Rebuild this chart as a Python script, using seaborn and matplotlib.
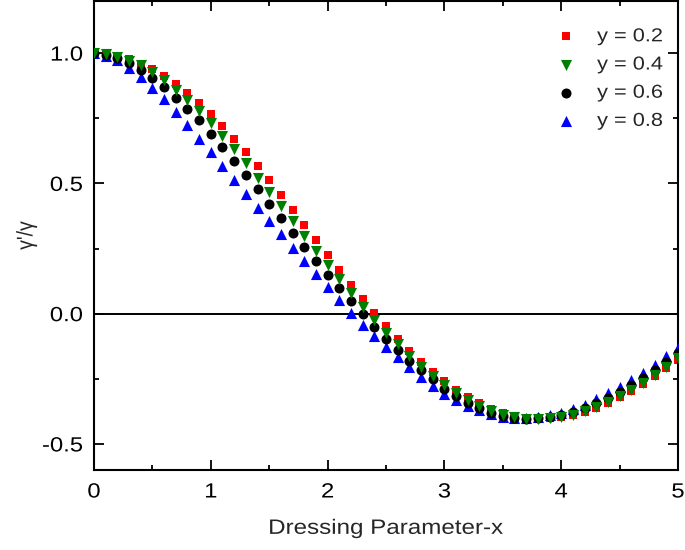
import matplotlib
matplotlib.use("Agg")
import matplotlib.pyplot as plt
import pandas as pd
import seaborn as sns
from matplotlib.path import Path
from matplotlib.patheffects import AbstractPathEffect
from matplotlib.ticker import MultipleLocator
from matplotlib.transforms import Affine2D

# Dressing parameter values (sampled every 0.1)
dressing_x = [0.0, 0.1, 0.2, 0.3, 0.4, 0.5, 0.6, 0.7, 0.8, 0.9,
              1.0, 1.1, 1.2, 1.3, 1.4, 1.5, 1.6, 1.7, 1.8, 1.9,
              2.0, 2.1, 2.2, 2.3, 2.4, 2.5, 2.6, 2.7, 2.8, 2.9,
              3.0, 3.1, 3.2, 3.3, 3.4, 3.5, 3.6, 3.7, 3.8, 3.9,
              4.0, 4.1, 4.2, 4.3, 4.4, 4.5, 4.6, 4.7, 4.8, 4.9, 5.0]

ratio_y02 = [1.000, 0.998, 0.990, 0.978, 0.960, 0.938, 0.912, 0.881, 0.846, 0.808,
             0.765, 0.720, 0.671, 0.620, 0.567, 0.512, 0.455, 0.398, 0.340, 0.282,
             0.224, 0.167, 0.110, 0.056, 0.003, -0.048, -0.097, -0.142, -0.185, -0.224,
             -0.260, -0.292, -0.320, -0.344, -0.364, -0.380, -0.392, -0.399, -0.403, -0.402,
             -0.397, -0.389, -0.377, -0.361, -0.342, -0.321, -0.296, -0.269, -0.240, -0.210, -0.178]

ratio_y04 = [1.000, 0.995, 0.986, 0.970, 0.954, 0.928, 0.896, 0.860, 0.819, 0.777,
             0.733, 0.682, 0.631, 0.578, 0.522, 0.467, 0.413, 0.355, 0.297, 0.242,
             0.188, 0.132, 0.078, 0.027, -0.025, -0.074, -0.118, -0.163, -0.204, -0.241,
             -0.275, -0.305, -0.332, -0.355, -0.373, -0.387, -0.397, -0.403, -0.405, -0.401,
             -0.396, -0.389, -0.374, -0.358, -0.338, -0.317, -0.293, -0.266, -0.236, -0.204, -0.169]

ratio_y06 = [1.000, 0.994, 0.980, 0.962, 0.937, 0.906, 0.870, 0.829, 0.787, 0.742,
             0.691, 0.640, 0.586, 0.531, 0.477, 0.422, 0.368, 0.310, 0.255, 0.201,
             0.149, 0.097, 0.047, 0.000, -0.050, -0.098, -0.140, -0.180, -0.218, -0.252,
             -0.288, -0.317, -0.342, -0.363, -0.380, -0.392, -0.400, -0.403, -0.402, -0.397,
             -0.389, -0.378, -0.362, -0.344, -0.323, -0.300, -0.274, -0.246, -0.216, -0.184, -0.151]

ratio_y08 = [1.000, 0.990, 0.973, 0.941, 0.909, 0.867, 0.822, 0.774, 0.723, 0.672,
             0.619, 0.565, 0.512, 0.458, 0.406, 0.355, 0.304, 0.253, 0.201, 0.153,
             0.101, 0.052, 0.002, -0.042, -0.085, -0.127, -0.167, -0.206, -0.242, -0.276,
             -0.307, -0.331, -0.353, -0.371, -0.385, -0.395, -0.399, -0.400, -0.397, -0.390,
             -0.381, -0.367, -0.350, -0.329, -0.306, -0.282, -0.255, -0.226, -0.196, -0.164, -0.133]

series_labels = ["y = 0.2", "y = 0.4", "y = 0.6", "y = 0.8"]
series_values = [ratio_y02, ratio_y04, ratio_y06, ratio_y08]

x_ticks = [0, 1, 2, 3, 4, 5]
y_ticks = [-0.5, 0.0, 0.5, 1.0]
y_tick_labels = ["-0.5", "0.0", "0.5", "1.0"]

df = pd.concat(
    [pd.DataFrame({"x": dressing_x, "ratio": vals, "series": lab})
     for lab, vals in zip(series_labels, series_values)],
    ignore_index=True,
)


class Stretch(AbstractPathEffect):
    """Draw text glyphs widened along the baseline (or heightened)."""

    def __init__(self, sx=1.16, sy=1.0, anchor=0.5):
        super().__init__()
        self.sx, self.sy, self.anchor = sx, sy, anchor

    def draw_path(self, renderer, gc, tpath, affine, rgbFace=None):
        verts = tpath.vertices
        if tpath.codes is not None:
            verts = verts[tpath.codes != Path.CLOSEPOLY]
        x0 = 0.0
        if len(verts):
            lo, hi = verts[:, 0].min(), verts[:, 0].max()
            x0 = lo + self.anchor * (hi - lo)
        t = Affine2D().translate(-x0, 0).scale(self.sx, self.sy).translate(x0, 0)
        renderer.draw_path(gc, tpath, t + affine, rgbFace)


sns.set_style("ticks")
plt.rcParams["font.family"] = ["Liberation Sans", "DejaVu Sans"]
plt.rcParams["axes.unicode_minus"] = False

fig = plt.figure(figsize=(6.85, 5.5), dpi=100)
ax = fig.add_axes([94 / 685, 80 / 550, 584 / 685, 469 / 550])

ax.axhline(0.0, color="black", lw=1.4, zorder=1)

styles = {
    "y = 0.2": dict(marker="s", color="#ff0000", s=38, zorder=2),
    "y = 0.4": dict(marker="v", color="#008000", s=64, zorder=5),
    "y = 0.6": dict(marker="o", color="#000000", s=52, zorder=4),
    "y = 0.8": dict(marker="^", color="#0000ff", s=64, zorder=3),
}

for lab in series_labels:
    st = styles[lab]
    sns.scatterplot(data=df[df["series"] == lab], x="x", y="ratio", ax=ax,
                    marker=st["marker"], color=st["color"], s=st["s"],
                    linewidth=0, zorder=st["zorder"], label=lab, legend=False)

ax.set_xlim(0, 5)
ax.set_ylim(-0.6, 1.2)
ax.set_xticks(x_ticks)
ax.set_xticklabels([str(v) for v in x_ticks])
ax.xaxis.set_minor_locator(MultipleLocator(0.5))
ax.set_yticks(y_ticks)
ax.set_yticklabels(y_tick_labels)
ax.yaxis.set_minor_locator(MultipleLocator(0.25))

ax.tick_params(which="both", direction="in", top=True, right=True,
               width=1.3, colors="black", labelsize=14.8)
ax.tick_params(axis="x", which="major", pad=9)
ax.tick_params(axis="y", which="major", pad=8)
ax.tick_params(which="major", length=7)
ax.tick_params(which="minor", length=3.6)
for sp in ax.spines.values():
    sp.set_linewidth(1.5)
    sp.set_color("black")

for t in ax.get_xticklabels():
    t.set_path_effects([Stretch(anchor=0.5)])
for t in ax.get_yticklabels():
    t.set_path_effects([Stretch(anchor=1.0)])

xl = ax.set_xlabel("Dressing Parameter-x", fontsize=15, labelpad=12.5)
xl.set_path_effects([Stretch(anchor=0.5)])
yl = ax.set_ylabel("γ'/γ", fontsize=14, labelpad=8)
yl.set_path_effects([Stretch(sx=1.0, sy=1.16, anchor=0.5)])

handles, labels = ax.get_legend_handles_labels()
order = [labels.index(l) for l in series_labels]
leg = ax.legend([handles[i] for i in order], [labels[i] for i in order],
                loc="upper left", bbox_to_anchor=(548 / 685, 1 - 21 / 550),
                bbox_transform=fig.transFigure, frameon=False, fontsize=13.5,
                handlelength=1.157, handletextpad=1.077, labelspacing=0.59,
                borderaxespad=0, borderpad=0.384, markerscale=1.0)
for t in leg.get_texts():
    t.set_path_effects([Stretch(anchor=0.0)])

fig.savefig("out.png", dpi=100)
